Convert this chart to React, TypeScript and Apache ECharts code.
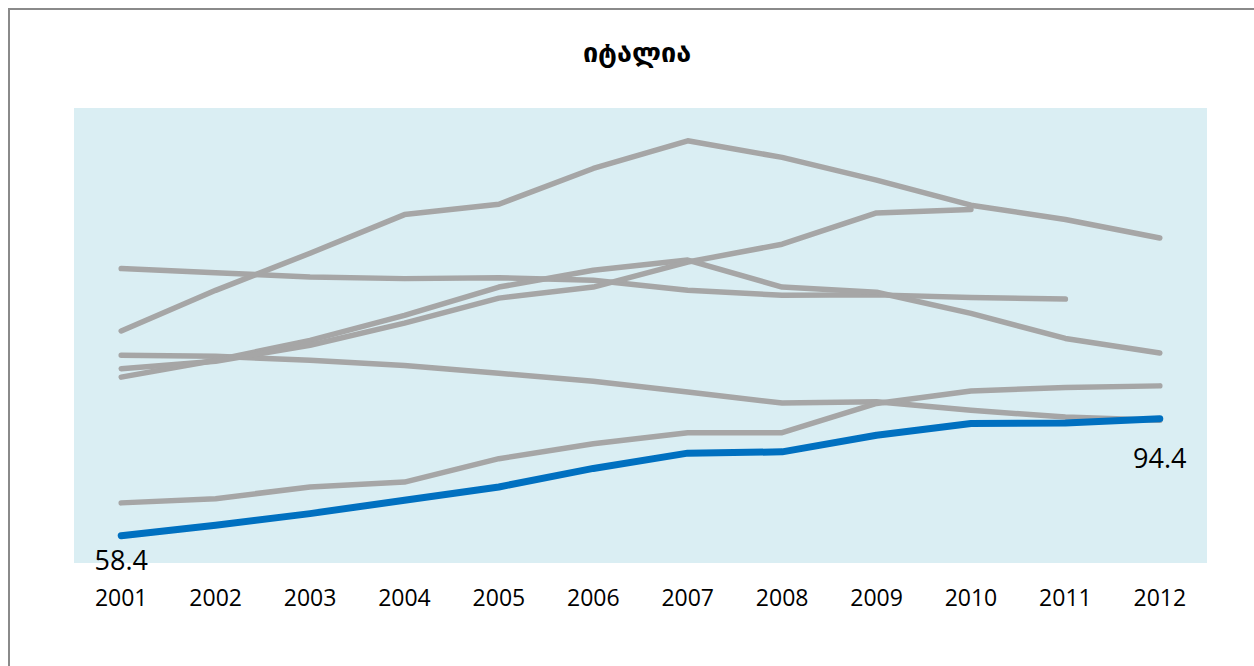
import React, { useEffect, useRef } from "react";
import * as echarts from "echarts";

const years = ["2001", "2002", "2003", "2004", "2005", "2006", "2007", "2008", "2009", "2010", "2011", "2012"];
const italy = [58.4, 61.6, 65.2, 69.3, 73.4, 79.1, 83.8, 84.2, 89.3, 92.9, 93.1, 94.4];
const otherA = [121.4, 133.9, 145.3, 157.2, 160.4, 171.4, 179.9, 174.8, 167.8, 160.1, 155.7, 150.0];
const otherB = [140.6, 139.3, 138.0, 137.5, 137.8, 137.0, 133.9, 132.4, 132.5, 131.7, 131.2, null];
const otherC = [113.9, 113.6, 112.4, 110.8, 108.4, 105.9, 102.6, 99.2, 99.6, 97.0, 94.9, 93.9];
const otherD = [68.5, 69.8, 73.4, 74.9, 82.1, 86.7, 90.1, 90.1, 99.1, 102.9, 104.0, 104.5];
const otherE = [107.2, 112.4, 118.5, 126.2, 134.9, 140.1, 143.2, 134.9, 133.3, 126.8, 119.1, 114.6];
const otherF = [109.8, 112.1, 117.0, 123.8, 131.5, 134.9, 142.6, 148.1, 157.7, 158.8, null, null];
const grayLines = [otherA, otherB, otherC, otherD, otherE, otherF];

export default function App() {
  const ref = useRef<HTMLDivElement>(null);
  useEffect(() => {
    if (!ref.current) return;
    const chart = echarts.init(ref.current, null, { renderer: "svg" });
    const graySeries = grayLines.map((d, i) => ({
      type: "line",
      name: "other" + i,
      data: d,
      symbol: "none",
      connectNulls: false,
      lineStyle: { color: "#A6A6A6", width: 5.5, cap: "round", join: "round" },
      z: 2,
    }));
    const last = italy.length - 1;
    const italyData = italy.map((v, i) => {
      if (i === 0) {
        return { value: v, label: { show: true, position: "bottom", distance: 9 } };
      }
      if (i === last) {
        return { value: v, label: { show: true, position: "bottom", distance: 24 } };
      }
      return { value: v };
    });
    chart.setOption({
      animation: false,
      title: {
        text: "იტალია",
        left: 632,
        textAlign: "center",
        top: 34,
        textStyle: { fontFamily: "DejaVu Sans", fontWeight: "bold", fontSize: 27, color: "#000" },
      },
      grid: {
        left: 74,
        right: 47,
        top: 108,
        bottom: 103,
        show: true,
        backgroundColor: "#DAEEF3",
        borderWidth: 0,
      },
      xAxis: {
        type: "category",
        data: years,
        boundaryGap: true,
        axisLine: { show: false },
        axisTick: { show: false },
        splitLine: { show: false },
        axisLabel: { fontFamily: "Open Sans", fontSize: 23, color: "#000", margin: 22 },
      },
      yAxis: {
        type: "value",
        min: 50,
        max: 190,
        show: false,
        splitLine: { show: false },
      },
      series: [
        ...graySeries,
        {
          type: "line",
          name: "იტალია",
          data: italyData,
          symbol: "circle",
          symbolSize: 2,
          itemStyle: { color: "#0070C0" },
          lineStyle: { color: "#0070C0", width: 7, cap: "round", join: "round" },
          label: { fontFamily: "Open Sans", fontSize: 27, color: "#000", formatter: (p: any) => p.value.toFixed(1) },
          z: 3,
        },
      ],
    });
    return () => chart.dispose();
  }, []);
  return (
    <div style={{ position: "fixed", left: 0, top: 0, width: 1254, height: 666, background: "#fff", overflow: "hidden" }}>
      <div
        style={{
          position: "absolute",
          left: 8,
          top: 8,
          width: 1400,
          height: 800,
          borderTop: "2px solid #8a8a8a",
          borderLeft: "2px solid #8a8a8a",
        }}
      />
      <div ref={ref} style={{ position: "absolute", left: 0, top: 0, width: 1254, height: 666 }} />
    </div>
  );
}
